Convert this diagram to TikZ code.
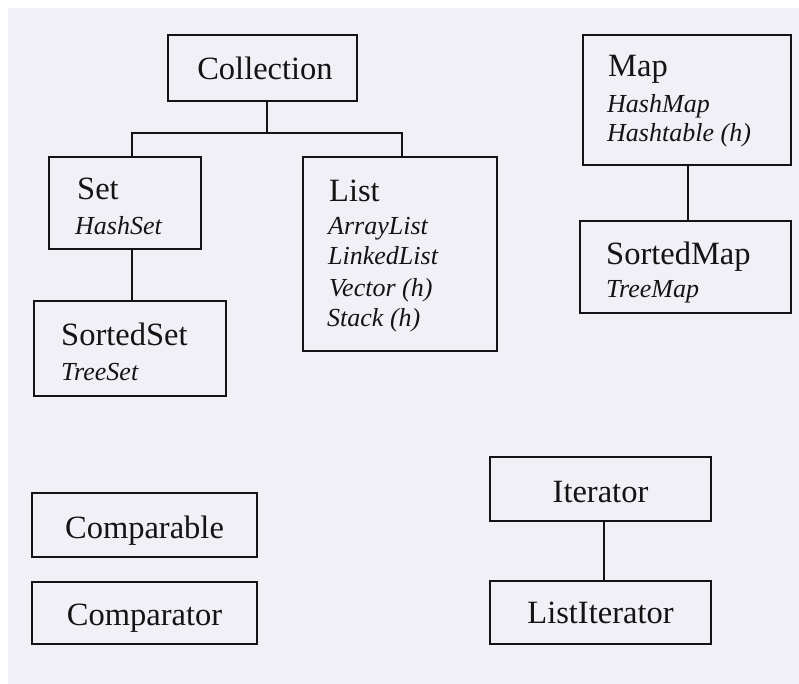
\documentclass[tikz,border=0pt]{standalone}
\usepackage{fontspec}
\setmainfont{Liberation Serif}
\definecolor{paper}{RGB}{240,240,246}
\definecolor{ink}{RGB}{20,20,20}
% class box given by its corners (left, top, right, bottom)
\newcommand\classbox[5]{%
  \pgfmathsetmacro\cbw{#4-#2}%
  \pgfmathsetmacro\cbh{#5-#3}%
  \node[box, minimum width=\cbw pt, minimum height=\cbh pt] (#1) at ({(#2+#4)/2},{(#3+#5)/2}) {};%
}
\begin{document}
\begin{tikzpicture}[x=1pt,y=-1pt,
  box/.style={draw=ink, line width=1.8pt, rectangle, inner sep=0pt, outer sep=0pt},
  wire/.style={draw=ink, line width=1.8pt},
  title/.style={inner sep=0pt, text=ink, font=\fontsize{32.5}{36}\selectfont},
  impl/.style={inner sep=0pt, text=ink, font=\itshape\fontsize{26}{30}\selectfont}]
\useasboundingbox (0,0) rectangle (799,684);
\fill[white] (0,0) rectangle (799,684);
\fill[paper] (8,8) rectangle (799,684);

% boxes
\classbox{coll}{168}{35}{357}{101}
\classbox{set}{49}{157}{201}{249}
\classbox{sset}{34}{301}{226}{396}
\classbox{list}{303}{157}{497}{351}
\classbox{map}{583}{35}{791}{165}
\classbox{smap}{580}{221}{791}{313}
\classbox{cmpble}{32}{493}{257}{557}
\classbox{cmptor}{32}{582}{257}{644}
\classbox{iter}{490}{457}{711}{521}
\classbox{liter}{490}{581}{711}{644}

% labels
\node[title, anchor=base] (tColl) at (265,80) {Collection};
\node[title, anchor=base west] (tSet) at (77,200) {Set};
\node[impl, anchor=base west] (tHashSet) at (75,235) {HashSet};
\node[title, anchor=base west] (tSSet) at (61,345) {SortedSet};
\node[impl, anchor=base west] (tTreeSet) at (61,380) {TreeSet};
\node[title, anchor=base west] (tList) at (329,202) {List};
\node[impl, anchor=base west] (tAL) at (328,235) {ArrayList};
\node[impl, anchor=base west] (tLL) at (328,265) {LinkedList};
\node[impl, anchor=base west] (tVec) at (329,296) {Vector (h)};
\node[impl, anchor=base west] (tStack) at (327,326) {Stack (h)};
\node[title, anchor=base west] (tMap) at (608,77) {Map};
\node[impl, anchor=base west] (tHM) at (607,113) {HashMap};
\node[impl, anchor=base west] (tHT) at (607,142) {Hashtable (h)};
\node[title, anchor=base west] (tSMap) at (606,265) {SortedMap};
\node[impl, anchor=base west] (tTM) at (606,297) {TreeMap};
\node[title, anchor=base] (tCmpble) at (144.5,538) {Comparable};
\node[title, anchor=base] (tCmptor) at (144.5,625) {Comparator};
\node[title, anchor=base] (tIter) at (600.5,502) {Iterator};
\node[title, anchor=base] (tLIter) at (600.5,623) {ListIterator};

% connectors
\coordinate (jColl) at (267,133);
\coordinate (jSet) at (132,133);
\coordinate (jList) at (402,133);
\coordinate (jMap) at (688,0);
\coordinate (jIt) at (604,0);
\draw[wire] (jColl |- coll.south) -- (jColl);
\draw[wire] (jSet |- set.north) -- (jSet) -- (jList) -- (jList |- list.north);
\draw[wire] (jSet |- set.south) -- (jSet |- sset.north);
\draw[wire] (jMap |- map.south) -- (jMap |- smap.north);
\draw[wire] (jIt |- iter.south) -- (jIt |- liter.north);
\end{tikzpicture}
\end{document}
